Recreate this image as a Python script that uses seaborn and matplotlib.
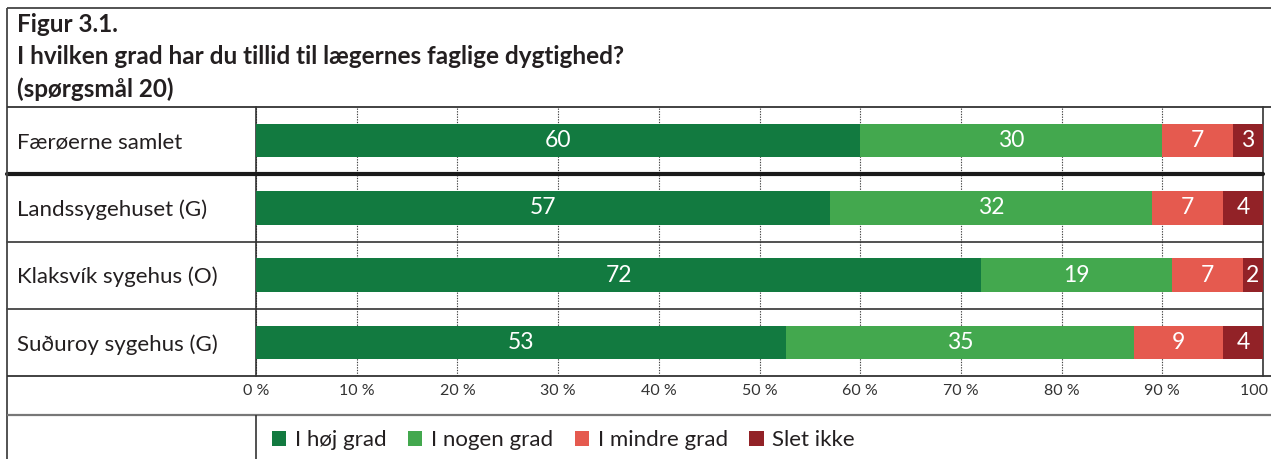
import matplotlib
matplotlib.use("Agg")
import matplotlib.pyplot as plt
import matplotlib.transforms as mtransforms
from matplotlib.lines import Line2D
from matplotlib.patches import Patch
import numpy as np
import seaborn as sns

# ---------------- data ----------------
categories = ["Færøerne samlet", "Landssygehuset (G)", "Klaksvík sygehus (O)", "Suðuroy sygehus (G)"]
series_names = ["I høj grad", "I nogen grad", "I mindre grad", "Slet ikke"]
hoj_grad = [60, 57, 72, 52.6]
nogen_grad = [30, 32, 19, 34.6]
mindre_grad = [7, 7, 7, 8.8]
slet_ikke = [3, 4, 2, 4.0]
tick_values = [0, 10, 20, 30, 40, 50, 60, 70, 80, 90, 100]
tick_labels = ["0 %", "10 %", "20 %", "30 %", "40 %", "50 %", "60 %", "70 %", "80 %", "90 %", "100 %"]
title_lines = ["Figur 3.1.",
               "I hvilken grad har du tillid til lægernes faglige dygtighed?",
               "(spørgsmål 20)"]
colors = ["#127a40", "#43a84e", "#e55a4f", "#922227"]

# ---------------- style ----------------
sns.set_theme(style="white")
plt.rcParams["font.family"] = ["Lato", "DejaVu Sans"]
TXT = "#231f20"

W, H = 1271, 459
fig = plt.figure(figsize=(W / 100, H / 100), dpi=100)
fig.patch.set_facecolor("white")


def fx(px):
    return px / W


def fy(py):
    return 1 - py / H


ax = fig.add_axes([fx(256), fy(376), fx(1263) - fx(256), fy(107) - fy(376)])

series = [hoj_grad, nogen_grad, mindre_grad, slet_ikke]
cum = np.cumsum(np.array(series, dtype=float), axis=0)

for i in reversed(range(len(series))):
    sns.barplot(x=cum[i], y=categories, color=colors[i], orient="h", width=0.5,
                saturation=1, linewidth=0, ax=ax, zorder=3)

for i, vals in enumerate(series):
    for j, v in enumerate(vals):
        ax.text(cum[i][j] - v / 2, j, f"{round(v)}", ha="center", va="center",
                color="white", fontsize=16.5, zorder=5)

ax.set_xlim(0, 100)
ax.set_ylim(3.5, -0.5)
ax.set_xlabel("")
ax.set_ylabel("")
ax.set_axisbelow(True)
ax.set_xticks(tick_values, tick_labels)
ax.grid(axis="x", linestyle=(0, (1.2, 1.2)), color="#444444", linewidth=0.8)
ax.grid(axis="y", visible=False)
ax.tick_params(axis="x", length=0, pad=6, labelsize=11.5, labelcolor="#333333")
ax.tick_params(axis="y", length=0, pad=172, labelsize=16, labelcolor=TXT)
for t in ax.get_yticklabels():
    t.set_ha("left")
for s in ["top", "bottom"]:
    ax.spines[s].set_visible(False)
for s in ["left", "right"]:
    ax.spines[s].set_visible(True)
    ax.spines[s].set_color("#222222")
    ax.spines[s].set_linewidth(1.1)

# row separators (x in figure coords, y in data coords)
blend = mtransforms.blended_transform_factory(fig.transFigure, ax.transData)
fig.add_artist(Line2D([fx(7), fx(1263)], [0.5, 0.5], transform=blend, color="#1a1a1a", lw=3.0))
for yb in [1.5, 2.5]:
    fig.add_artist(Line2D([fx(7), fx(1263)], [yb, yb], transform=blend, color="#333333", lw=1.2))

# frame lines in figure coords
def fline(x0, y0, x1, y1, color="#333333", lw=1.2):
    fig.add_artist(Line2D([fx(x0), fx(x1)], [fy(y0), fy(y1)], color=color, lw=lw,
                          solid_capstyle="butt"))

fline(7, 8, 1271, 8, color="#444444", lw=1.3)       # top border
fline(7, 8, 7, 459, color="#444444", lw=1.3)        # left border
fline(7, 107, 1271, 107, color="#333333", lw=1.3)   # under title
fline(7, 376, 1271, 376, color="#333333", lw=1.3)   # bottom of plot
fline(7, 415, 1271, 415, color="#777777", lw=1.6)   # under tick labels
fline(256, 415, 256, 459, color="#333333", lw=1.2)  # legend cell divider

# title
for k, line in enumerate(title_lines):
    fig.text(fx(17), fy(25 + 32 * k), line, ha="left", va="center",
             fontsize=17.5, fontweight="bold", color=TXT)

# legend
handles = [Patch(facecolor=c, edgecolor="none") for c in colors]
fig.legend(handles, series_names, loc="center left", bbox_to_anchor=(fx(263), fy(440)),
           ncol=4, frameon=False, fontsize=16, handlelength=0.65, handleheight=0.65,
           handletextpad=0.4, columnspacing=0.95, labelcolor=TXT, borderaxespad=0)

fig.savefig("out.png", dpi=100, facecolor="white")
